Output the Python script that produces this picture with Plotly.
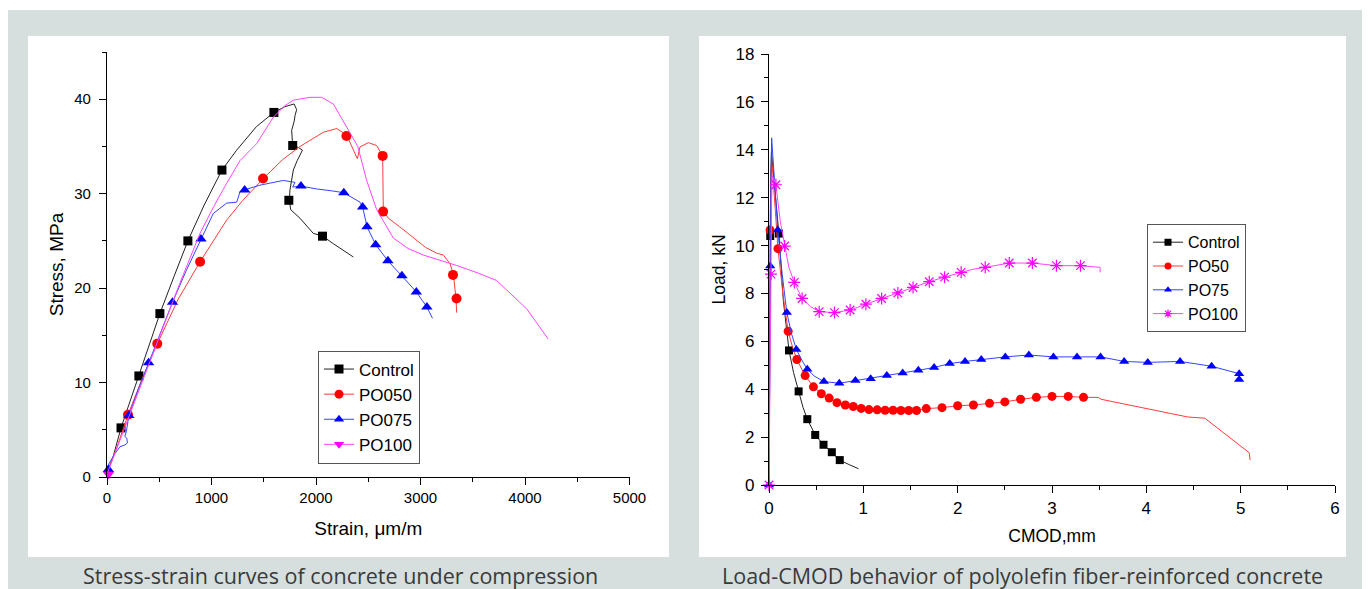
import plotly.graph_objects as go

# ---------------- Left chart: stress-strain ----------------
ctrl_x = [0, 60, 134, 220, 305, 400, 506, 640, 774, 930, 1100, 1240, 1430, 1597, 1700, 1790, 1815, 1800, 1790, 1767, 1777,
          1830, 1870, 1820, 1783, 1751, 1745, 1758, 1847, 1974, 2064, 2166, 2260, 2357]
ctrl_y = [0.3, 2.2, 5.2, 8.0, 10.7, 14.0, 17.3, 21.2, 25.0, 28.8, 32.5, 34.6, 37.1, 38.6, 39.2, 39.5, 38.9, 38.3, 37.6, 36.7, 35.1,
          34.9, 34.6, 33.5, 32.5, 30.4, 29.3, 28.3, 27.4, 25.8, 25.5, 24.7, 24.0, 23.3]
ctrl_mx = [134, 305, 506, 774, 1100, 1597, 1777, 1740, 2062]
ctrl_my = [5.2, 10.7, 17.3, 25.0, 32.5, 38.6, 35.1, 29.3, 25.5]

po050_x = [0, 100, 201, 340, 481, 680, 891, 1145, 1300, 1496, 1680, 1847, 2070, 2198, 2293, 2350, 2396, 2421, 2501, 2580,
           2638, 2644, 2692, 2800, 2931, 3050, 3155, 3219, 3282, 3314, 3340, 3346]
po050_y = [0.5, 3.3, 6.6, 10.5, 14.1, 18.8, 22.8, 27.2, 29.3, 31.6, 33.6, 35.0, 36.5, 36.9, 36.2, 34.9, 33.7, 34.95, 35.4, 35.1,
           34.0, 28.2, 27.4, 26.5, 25.3, 24.3, 23.7, 23.5, 22.6, 21.5, 18.9, 17.4]
po050_mx = [201, 481, 891, 1493, 2291, 2638, 2642, 3311, 3345]
po050_my = [6.6, 14.1, 22.8, 31.6, 36.1, 34.0, 28.1, 21.4, 18.9]

po075_x = [0, 13, 77, 124, 172, 195, 190, 170, 185, 209, 300, 398, 510, 627, 760, 899, 1017, 1145, 1241, 1273, 1314, 1464,
           1687, 1799, 1777, 1856, 2006, 2150, 2266, 2421, 2446, 2488, 2571, 2688, 2822, 2960, 3061, 3115]
po075_y = [0.5, 1.3, 2.5, 3.2, 3.4, 3.6, 4.1, 4.3, 4.8, 6.5, 9.3, 12.1, 15.3, 18.5, 21.9, 25.2, 27.9, 29.0, 29.1, 30.2, 30.4, 30.9,
           31.4, 31.2, 30.7, 30.8, 30.5, 30.3, 30.1, 29.1, 28.6, 26.5, 24.6, 22.9, 21.3, 19.6, 18.0, 16.8]
po075_mx = [13, 209, 398, 627, 899, 1317, 1856, 2266, 2446, 2488, 2571, 2688, 2822, 2960, 3061]
po075_my = [0.8, 6.5, 12.1, 18.5, 25.2, 30.4, 30.8, 30.1, 28.6, 26.5, 24.6, 22.9, 21.3, 19.6, 18.0]

po100_x = [0, 100, 200, 350, 500, 700, 890, 1020, 1145, 1273, 1432, 1592, 1700, 1783, 1943, 2054, 2166, 2294, 2400, 2485,
           2581, 2740, 2880, 3027, 3346, 3550, 3729, 4016, 4223]
po100_y = [0.3, 3.2, 6.3, 10.6, 15.0, 20.6, 25.8, 28.6, 31.1, 33.5, 35.3, 38.1, 39.3, 39.9, 40.2, 40.2, 39.5, 37.1, 35.0, 31.4,
           28.3, 25.3, 24.2, 23.5, 22.4, 21.6, 20.8, 17.8, 14.6]
po100_mx = [15]
po100_my = [0.3]

left_names = ["Control", "PO050", "PO075", "PO100"]

# ---------------- Right chart: load-CMOD ----------------
c_x = [0, 0.005, 0.01, 0.013, 0.02, 0.026, 0.035, 0.06, 0.105, 0.152, 0.212, 0.26, 0.314, 0.36, 0.406, 0.49, 0.578, 0.666,
       0.75, 0.85, 0.948]
c_y = [0, 5.0, 9.5, 10.4, 13.0, 13.9, 13.5, 12.2, 10.5, 7.7, 5.62, 4.7, 3.91, 3.25, 2.75, 2.09, 1.68, 1.37, 1.04, 0.85, 0.68]
c_mx = [0.013, 0.105, 0.212, 0.314, 0.406, 0.49, 0.578, 0.666, 0.75]
c_my = [10.4, 10.5, 5.62, 3.91, 2.75, 2.09, 1.68, 1.37, 1.04]

p50_x = [0, 0.005, 0.011, 0.02, 0.028, 0.04, 0.07, 0.095, 0.15, 0.203, 0.25, 0.295, 0.383, 0.471, 0.555, 0.638, 0.721,
         0.809, 0.893, 0.977, 1.06, 1.147, 1.231, 1.315, 1.398, 1.481, 1.564, 1.667, 1.834, 2.0, 2.167, 2.338, 2.5, 2.667,
         2.834, 3.0, 3.172, 3.334, 3.49, 3.52, 4.44, 4.62, 5.09, 5.1]
p50_y = [0, 6.0, 10.65, 12.8, 13.6, 13.0, 11.3, 9.87, 7.9, 6.42, 5.75, 5.24, 4.57, 4.1, 3.81, 3.63, 3.44, 3.34, 3.28, 3.2,
         3.15, 3.14, 3.12, 3.12, 3.11, 3.11, 3.11, 3.19, 3.23, 3.31, 3.34, 3.41, 3.47, 3.58, 3.66, 3.7, 3.7, 3.66, 3.66,
         3.58, 2.84, 2.79, 1.35, 1.04]
p50_mx = [0.011, 0.095, 0.203, 0.295, 0.383, 0.471, 0.555, 0.638, 0.721, 0.809, 0.893, 0.977, 1.06, 1.147, 1.231, 1.315,
          1.398, 1.481, 1.564, 1.667, 1.834, 2.0, 2.167, 2.338, 2.5, 2.667, 2.834, 3.0, 3.172, 3.334]
p50_my = [10.65, 9.87, 6.42, 5.24, 4.57, 4.1, 3.81, 3.63, 3.44, 3.34, 3.28, 3.2, 3.15, 3.14, 3.12, 3.12, 3.11, 3.11, 3.11,
          3.19, 3.23, 3.31, 3.34, 3.41, 3.47, 3.58, 3.66, 3.7, 3.7, 3.66]

p75_x = [0, 0.005, 0.013, 0.02, 0.028, 0.04, 0.065, 0.093, 0.14, 0.189, 0.24, 0.29, 0.35, 0.406, 0.48, 0.582, 0.745, 0.916,
         1.078, 1.249, 1.417, 1.583, 1.75, 1.916, 2.078, 2.25, 2.505, 2.755, 3.015, 3.265, 3.515, 3.765, 4.015, 4.358, 4.692,
         4.984, 4.99]
p75_y = [0, 4.0, 9.15, 12.5, 14.5, 13.8, 12.2, 10.65, 8.8, 7.2, 6.3, 5.66, 5.2, 4.83, 4.55, 4.32, 4.25, 4.36, 4.44, 4.57,
         4.68, 4.79, 4.91, 5.07, 5.16, 5.24, 5.35, 5.43, 5.35, 5.35, 5.35, 5.16, 5.12, 5.16, 4.96, 4.65, 4.41]
p75_mx = [0, 0.013, 0.093, 0.189, 0.29, 0.406, 0.582, 0.745, 0.916, 1.078, 1.249, 1.417, 1.583, 1.75, 1.916, 2.078, 2.25,
          2.505, 2.755, 3.015, 3.265, 3.515, 3.765, 4.015, 4.358, 4.692, 4.984, 4.984]
p75_my = [0, 9.15, 10.65, 7.2, 5.66, 4.83, 4.32, 4.25, 4.36, 4.44, 4.57, 4.68, 4.79, 4.91, 5.07, 5.16, 5.24, 5.35, 5.43,
          5.35, 5.35, 5.35, 5.16, 5.12, 5.16, 4.96, 4.65, 4.41]

p100_x = [0, 0.008, 0.021, 0.028, 0.035, 0.05, 0.073, 0.12, 0.166, 0.21, 0.268, 0.351, 0.44, 0.532, 0.694, 0.86, 1.027,
          1.194, 1.366, 1.527, 1.699, 1.861, 2.037, 2.15, 2.292, 2.547, 2.792, 3.047, 3.302, 3.51, 3.51]
p100_y = [0, 5.0, 8.81, 12.0, 12.9, 12.8, 12.54, 11.0, 9.98, 9.1, 8.46, 7.79, 7.45, 7.24, 7.2, 7.31, 7.55, 7.79, 8.02,
          8.25, 8.49, 8.68, 8.88, 9.0, 9.09, 9.27, 9.27, 9.16, 9.16, 9.09, 8.88]
p100_mx = [0, 0.021, 0.073, 0.166, 0.268, 0.351, 0.532, 0.694, 0.86, 1.027, 1.194, 1.366, 1.527, 1.699, 1.861, 2.037,
           2.292, 2.547, 2.792, 3.047, 3.302]
p100_my = [0, 8.81, 12.54, 9.98, 8.46, 7.79, 7.24, 7.2, 7.31, 7.55, 7.79, 8.02, 8.25, 8.49, 8.68, 8.88, 9.09, 9.27, 9.27,
           9.16, 9.16]

right_names = ["Control", "PO50", "PO75", "PO100"]

left_title = "Stress-strain curves of concrete under compression"
right_title = "Load-CMOD behavior of polyolefin fiber-reinforced concrete"

# ---------------- Layout helpers ----------------
# The page body has an 8px margin, so the figure is drawn 8px smaller and
# page coordinates are converted to figure coordinates.
PAGE_W, PAGE_H = 1370, 589
OFF = 8
W, H = PAGE_W - OFF, PAGE_H - OFF


def fx(p):
    return (p - OFF) / W


def fy(p):
    return 1 - (p - OFF) / H


line_cols = ["#222222", "#ff3b3b", "#3344ff", "#ff44ff"]
mark_cols = ["#000000", "#ff0000", "#0000ff", "#ff00ff"]
left_sym = ["square", "circle", "triangle-up", "triangle-down"]
left_msz = [9, 10, 10, 10]
right_sym = ["square", "circle", "triangle-up", "asterisk-open"]
right_msz = [8, 9, 9, 10]

fig = go.Figure()

left_series = [(ctrl_x, ctrl_y, ctrl_mx, ctrl_my), (po050_x, po050_y, po050_mx, po050_my),
               (po075_x, po075_y, po075_mx, po075_my), (po100_x, po100_y, po100_mx, po100_my)]
right_series = [(c_x, c_y, c_mx, c_my), (p50_x, p50_y, p50_mx, p50_my),
                (p75_x, p75_y, p75_mx, p75_my), (p100_x, p100_y, p100_mx, p100_my)]


def mk(sym, col, size):
    d = dict(symbol=sym, color=col, size=size)
    if sym.endswith("open"):
        d["line"] = dict(color=col, width=1.2)
    else:
        d["line"] = dict(width=0)
    return d


for i, (lx, ly, mxs, mys) in enumerate(left_series):
    fig.add_trace(go.Scatter(x=lx, y=ly, mode="lines", line=dict(color=line_cols[i], width=1),
                             xaxis="x", yaxis="y", showlegend=False, hoverinfo="skip"))
    fig.add_trace(go.Scatter(x=mxs, y=mys, mode="markers", marker=mk(left_sym[i], mark_cols[i], left_msz[i]),
                             xaxis="x", yaxis="y", showlegend=False, cliponaxis=False))
for i in range(4):
    fig.add_trace(go.Scatter(x=[None], y=[None], mode="lines+markers", name=left_names[i],
                             line=dict(color=line_cols[i], width=1),
                             marker=mk(left_sym[i], mark_cols[i], 9),
                             xaxis="x", yaxis="y", legend="legend"))

for i, (lx, ly, mxs, mys) in enumerate(right_series):
    fig.add_trace(go.Scatter(x=lx, y=ly, mode="lines", line=dict(color=line_cols[i], width=1),
                             xaxis="x2", yaxis="y2", showlegend=False, hoverinfo="skip"))
    fig.add_trace(go.Scatter(x=mxs, y=mys, mode="markers", marker=mk(right_sym[i], mark_cols[i], right_msz[i]),
                             xaxis="x2", yaxis="y2", showlegend=False, cliponaxis=False))
for i in range(4):
    fig.add_trace(go.Scatter(x=[None], y=[None], mode="lines+markers", name=right_names[i],
                             line=dict(color=line_cols[i], width=1),
                             marker=mk(right_sym[i], mark_cols[i], 7),
                             xaxis="x2", yaxis="y2", legend="legend2"))

afont = "Liberation Sans, Arial, sans-serif"
axis_common = dict(showline=True, linecolor="#000", linewidth=1.3, ticks="outside", tickcolor="#000",
                   tickwidth=1.3, ticklen=7, showgrid=False, zeroline=False, color="#000", automargin=False)

fig.update_layout(
    width=W, height=H,
    margin=dict(l=0, r=0, t=0, b=0),
    paper_bgcolor="white", plot_bgcolor="rgba(0,0,0,0)",
    font=dict(family=afont, color="#000"),
    xaxis=dict(**axis_common, domain=[fx(107), fx(629.5)], range=[0, 5000], dtick=1000, tick0=0,
               minor=dict(ticks="outside", ticklen=4, dtick=500, tickcolor="#000", tickwidth=1.3),
               tickfont=dict(size=15), anchor="y",
               title=dict(text="Strain, \u03bcm/m", font=dict(size=19), standoff=16)),
    yaxis=dict(**axis_common, domain=[fy(477), fy(52)], range=[0, 45], dtick=10, tick0=0,
               minor=dict(ticks="outside", ticklen=4, dtick=5, tickcolor="#000", tickwidth=1.3),
               tickfont=dict(size=15), anchor="x", ticklabelstandoff=5,
               title=dict(text="Stress, MPa", font=dict(size=19), standoff=5)),
    xaxis2=dict(**axis_common, domain=[fx(769), fx(1335)], range=[0, 6], dtick=1, tick0=0,
                minor=dict(ticks="outside", ticklen=4, dtick=0.5, tickcolor="#000", tickwidth=1.3),
                tickfont=dict(size=17), anchor="y2",
                title=dict(text="CMOD,mm", font=dict(size=17.5), standoff=13)),
    yaxis2=dict(**axis_common, domain=[fy(485), fy(54)], range=[0, 18], dtick=2, tick0=0,
                minor=dict(ticks="outside", ticklen=4, dtick=1, tickcolor="#000", tickwidth=1.3),
                tickfont=dict(size=17), anchor="x2", ticklabelstandoff=3,
                title=dict(text="Load, kN", font=dict(size=17.5), standoff=5)),
    legend=dict(x=fx(318), y=fy(350.5), xanchor="left", yanchor="top", bgcolor="white",
                bordercolor="#555", borderwidth=1, font=dict(size=17, color="#000"), tracegroupgap=0,
                entrywidth=76, entrywidthmode="pixels"),
    legend2=dict(x=fx(1147), y=fy(224.3), xanchor="left", yanchor="top", bgcolor="white",
                 bordercolor="#555", borderwidth=1, font=dict(size=16, color="#000"), tracegroupgap=0,
                 entrywidth=66, entrywidthmode="pixels"),
    shapes=[
        dict(type="rect", xref="paper", yref="paper", x0=0, x1=1, y0=0, y1=fy(10),
             fillcolor="#d6dfdd", line=dict(width=0), layer="below"),
        dict(type="rect", xref="paper", yref="paper", x0=fx(28), x1=fx(669), y0=fy(557), y1=fy(36),
             fillcolor="white", line=dict(width=0), layer="below"),
        dict(type="rect", xref="paper", yref="paper", x0=fx(699), x1=fx(1346), y0=fy(557), y1=fy(36),
             fillcolor="white", line=dict(width=0), layer="below"),
    ],
    annotations=[
        dict(text=left_title, xref="paper", yref="paper", x=fx(340), y=fy(575.5), xanchor="center",
             yanchor="middle", showarrow=False, font=dict(family="Open Sans, sans-serif", size=21.5, color="#3a3a3a")),
        dict(text=right_title, xref="paper", yref="paper", x=fx(1022), y=fy(575.5), xanchor="center",
             yanchor="middle", showarrow=False, font=dict(family="Open Sans, sans-serif", size=21.5, color="#3a3a3a")),
    ],
)

fig.write_html("out.html")
